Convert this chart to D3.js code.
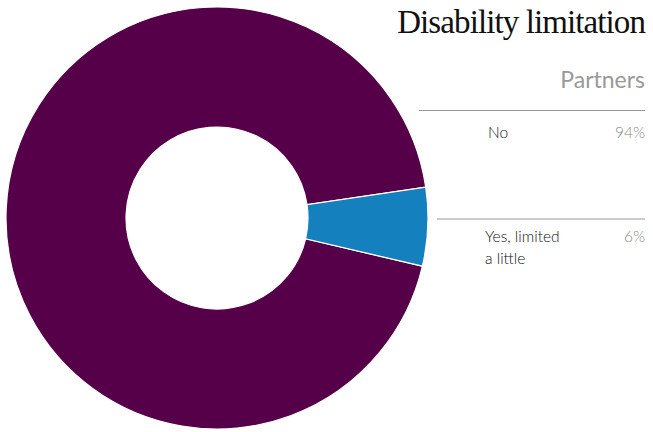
<!DOCTYPE html>
<html><head><meta charset="utf-8">
<script src="https://cdn.jsdelivr.net/npm/d3@7"></script>
<style>body{margin:0;background:#fff;}svg{display:block;}</style>
</head><body>
<svg id="c" width="653" height="432"></svg>
<script>
const categories = ["No", "Yes, limited a little"];
const labelLines = [["No"], ["Yes, limited", "a little"]];
const values = [94, 6];
const pctLabels = ["94%", "6%"];
const colors = ["#57004a", "#1480bd"];
const title = "Disability limitation";
const subtitle = "Partners";

const svg = d3.select("#c");
const cx = 217, cy = 218, rOuter = 211, rInner = 91;
const startDeg = 103.2;
const pie = d3.pie().sort(null).value(d => d)
  .startAngle(startDeg * Math.PI / 180)
  .endAngle((startDeg + 360) * Math.PI / 180);
const arc = d3.arc().innerRadius(rInner).outerRadius(rOuter);
const g = svg.append("g").attr("transform", `translate(${cx},${cy})`);
g.selectAll("path").data(pie(values)).join("path")
  .attr("d", arc)
  .attr("fill", (d, i) => colors[i])
  .attr("stroke", "#fff").attr("stroke-width", 1.2);

svg.append("text").attr("x", 645).attr("y", 33).attr("text-anchor", "end")
  .attr("font-family", "Liberation Serif").attr("font-size", 33)
  .attr("letter-spacing", -0.9).attr("fill", "#111").text(title);
svg.append("text").attr("x", 645).attr("y", 88).attr("text-anchor", "end")
  .attr("font-family", "Lato").attr("font-size", 23)
  .attr("fill", "#999").text(subtitle);

const rows = [{lineY: 110.5, x1: 419, textX: 488, baseY: 138},
              {lineY: 219, x1: 437, textX: 485, baseY: 242}];
categories.forEach((c, i) => {
  const r = rows[i];
  svg.append("line").attr("x1", r.x1).attr("x2", 645).attr("y1", r.lineY).attr("y2", r.lineY)
    .attr("stroke", "#999").attr("stroke-width", 1);
  const t = svg.append("text").attr("x", r.textX).attr("y", r.baseY)
    .attr("font-family", "Lato").attr("font-weight", 300).attr("font-size", 15.5).attr("fill", "#111");
  labelLines[i].forEach((ln, j) => {
    t.append("tspan").attr("x", r.textX).attr("dy", j === 0 ? 0 : 22).text(ln);
  });
  svg.append("text").attr("x", 645).attr("y", r.baseY).attr("text-anchor", "end")
    .attr("font-family", "Lato").attr("font-weight", 300).attr("font-size", 15.5).attr("fill", "#888").text(pctLabels[i]);
});
</script>
</body></html>
